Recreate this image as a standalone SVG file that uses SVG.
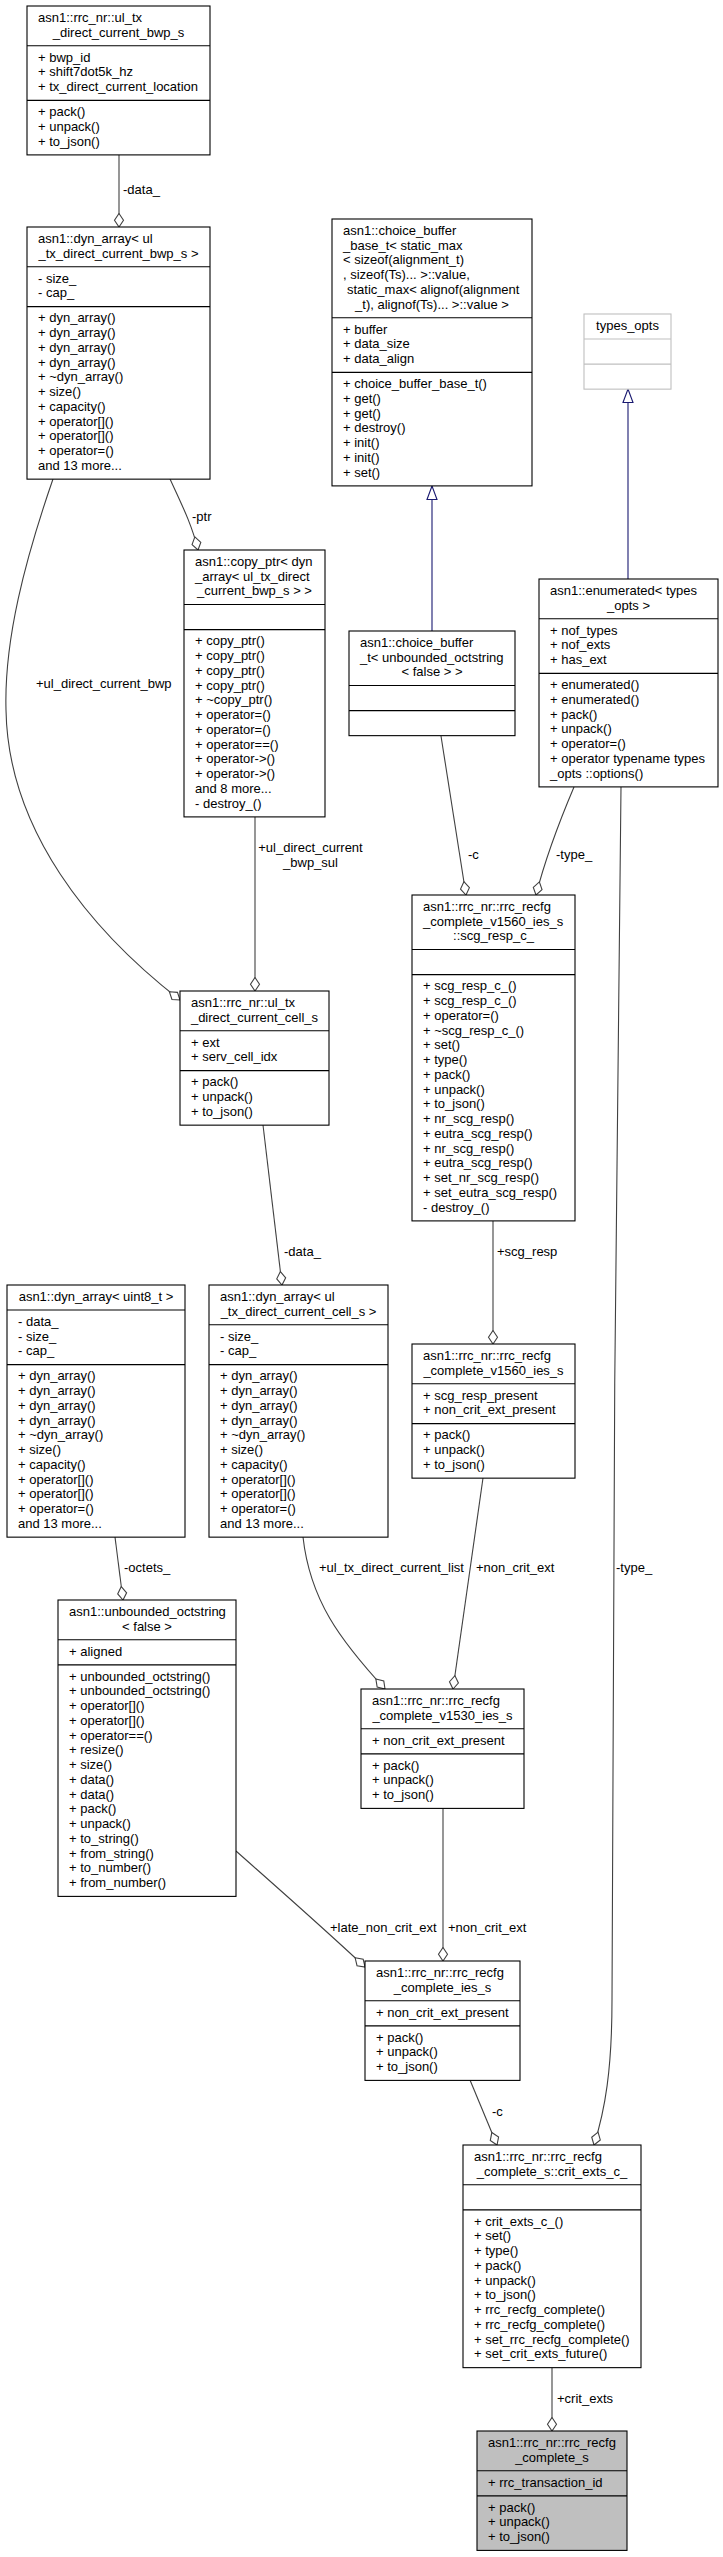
<svg xmlns="http://www.w3.org/2000/svg" width="723" height="2557" viewBox="0 0 723 2557">
<style>
text{font-family:"Liberation Sans",Arial,sans-serif;font-size:13px;fill:#000}
.c{text-anchor:middle}
.box{fill:#fff;stroke:#000;stroke-width:1.1}
.sep{stroke:#000;stroke-width:1.1}
.grey{fill:#fff;stroke:#bfbfbf;stroke-width:1.1}
.gsep{stroke:#bfbfbf;stroke-width:1.1}
.main{fill:#bfbfbf;stroke:#000;stroke-width:1.1}
.e{fill:none;stroke:#404040;stroke-width:1.1;marker-end:url(#dia)}
.inh{fill:none;stroke:#191970;stroke-width:1.1;marker-end:url(#tri)}
</style>
<defs>
<marker id="dia" markerWidth="16" markerHeight="12" refX="14.5" refY="6" orient="auto" markerUnits="userSpaceOnUse" viewBox="0 0 16 12"><path d="M1,6 L7.8,1.5 L14.5,6 L7.8,10.5 Z" fill="#fff" stroke="#404040" stroke-width="1.1"/></marker>
<marker id="tri" markerWidth="16" markerHeight="12" refX="14.5" refY="6" orient="auto" markerUnits="userSpaceOnUse" viewBox="0 0 16 12"><path d="M1,1 L14.5,6 L1,11 Z" fill="#fff" stroke="#191970" stroke-width="1.1"/></marker>
</defs>

<g id="edges">
<path class="e" d="M119,155 L119,227"/>
<path class="e" d="M170,479 C182,505 192,525 198,550"/>
<path class="e" d="M53,479 C25,560 4,640 6,710 C8,830 90,930 180,1000"/>
<path class="e" d="M255,817 L255,991"/>
<path class="e" d="M441,736 L466,895"/>
<path class="e" d="M574,787 C560,820 545,860 536,895"/>
<path class="e" d="M621,787 C616,1100 612,1700 612,2000 C612,2070 605,2110 594,2145"/>
<path class="e" d="M493,1221 L493,1344"/>
<path class="e" d="M263,1125 L282,1285"/>
<path class="e" d="M115,1537 L123,1600"/>
<path class="e" d="M303,1537 C310,1600 340,1640 385,1689"/>
<path class="e" d="M483,1478 L453,1689"/>
<path class="e" d="M443,1808 L443,1961"/>
<path class="e" d="M236,1851 C280,1890 320,1925 365,1967"/>
<path class="e" d="M470,2080 L497,2145"/>
<path class="e" d="M552,2368 L552,2431"/>
<path class="inh" d="M432,631 L432,486"/>
<path class="inh" d="M628,579 L628,389"/>
<text x="123" y="194">-data_</text>
<text x="192" y="521">-ptr</text>
<text x="36" y="687.5">+ul_direct_current_bwp</text>
<text x="310.5" y="852" class="c">+ul_direct_current</text>
<text x="310.5" y="867" class="c">_bwp_sul</text>
<text x="468" y="859">-c</text>
<text x="556" y="859">-type_</text>
<text x="284" y="1256">-data_</text>
<text x="497" y="1256">+scg_resp</text>
<text x="124" y="1572">-octets_</text>
<text x="319" y="1572">+ul_tx_direct_current_list</text>
<text x="476" y="1572">+non_crit_ext</text>
<text x="616" y="1572">-type_</text>
<text x="330" y="1932">+late_non_crit_ext</text>
<text x="448" y="1932">+non_crit_ext</text>
<text x="492" y="2116">-c</text>
<text x="557" y="2403">+crit_exts</text>
</g>

<g id="n1">
<rect class="box" x="27" y="6" width="183" height="148.9"/>
<line class="sep" x1="27" y1="45.8" x2="210" y2="45.8"/>
<line class="sep" x1="27" y1="100.35" x2="210" y2="100.35"/>
<text x="38" y="21.8">asn1::rrc_nr::ul_tx</text>
<text x="118.5" y="36.55" class="c">_direct_current_bwp_s</text>
<text x="38" y="61.6">+ bwp_id<tspan x="38" dy="14.75">+ shift7dot5k_hz</tspan><tspan x="38" dy="14.75">+ tx_direct_current_location</tspan></text>
<text x="38" y="116.15">+ pack()<tspan x="38" dy="14.75">+ unpack()</tspan><tspan x="38" dy="14.75">+ to_json()</tspan></text>
</g>

<g id="n2">
<rect class="box" x="27" y="227" width="183" height="252.15"/>
<line class="sep" x1="27" y1="266.8" x2="210" y2="266.8"/>
<line class="sep" x1="27" y1="306.6" x2="210" y2="306.6"/>
<text x="38" y="242.8">asn1::dyn_array&lt; ul</text>
<text x="118.5" y="257.55" class="c">_tx_direct_current_bwp_s &gt;</text>
<text x="38" y="282.6">- size_<tspan x="38" dy="14.75">- cap_</tspan></text>
<text x="38" y="322.4">+ dyn_array()<tspan x="38" dy="14.75">+ dyn_array()</tspan><tspan x="38" dy="14.75">+ dyn_array()</tspan><tspan x="38" dy="14.75">+ dyn_array()</tspan><tspan x="38" dy="14.75">+ ~dyn_array()</tspan><tspan x="38" dy="14.75">+ size()</tspan><tspan x="38" dy="14.75">+ capacity()</tspan><tspan x="38" dy="14.75">+ operator[]()</tspan><tspan x="38" dy="14.75">+ operator[]()</tspan><tspan x="38" dy="14.75">+ operator=()</tspan><tspan x="38" dy="14.75">and 13 more...</tspan></text>
</g>

<g id="n3">
<rect class="box" x="184" y="550" width="141" height="266.9"/>
<line class="sep" x1="184" y1="604.55" x2="325" y2="604.55"/>
<line class="sep" x1="184" y1="629.6" x2="325" y2="629.6"/>
<text x="195" y="565.8">asn1::copy_ptr&lt; dyn</text>
<text x="195" y="580.55">_array&lt; ul_tx_direct</text>
<text x="254.5" y="595.3" class="c">_current_bwp_s &gt; &gt;</text>
<text x="195" y="645.4">+ copy_ptr()<tspan x="195" dy="14.75">+ copy_ptr()</tspan><tspan x="195" dy="14.75">+ copy_ptr()</tspan><tspan x="195" dy="14.75">+ copy_ptr()</tspan><tspan x="195" dy="14.75">+ ~copy_ptr()</tspan><tspan x="195" dy="14.75">+ operator=()</tspan><tspan x="195" dy="14.75">+ operator=()</tspan><tspan x="195" dy="14.75">+ operator==()</tspan><tspan x="195" dy="14.75">+ operator-&gt;()</tspan><tspan x="195" dy="14.75">+ operator-&gt;()</tspan><tspan x="195" dy="14.75">and 8 more...</tspan><tspan x="195" dy="14.75">- destroy_()</tspan></text>
</g>

<g id="n4">
<rect class="box" x="332" y="219" width="200" height="266.9"/>
<line class="sep" x1="332" y1="317.8" x2="532" y2="317.8"/>
<line class="sep" x1="332" y1="372.35" x2="532" y2="372.35"/>
<text x="343" y="234.8">asn1::choice_buffer<tspan x="343" dy="14.75">_base_t&lt; static_max</tspan><tspan x="343" dy="14.75">&lt; sizeof(alignment_t)</tspan><tspan x="343" dy="14.75">, sizeof(Ts)... &gt;::value,</tspan><tspan x="347" dy="14.75">static_max&lt; alignof(alignment</tspan></text>
<text x="432" y="308.55" class="c">_t), alignof(Ts)... &gt;::value &gt;</text>
<text x="343" y="333.6">+ buffer<tspan x="343" dy="14.75">+ data_size</tspan><tspan x="343" dy="14.75">+ data_align</tspan></text>
<text x="343" y="388.15">+ choice_buffer_base_t()<tspan x="343" dy="14.75">+ get()</tspan><tspan x="343" dy="14.75">+ get()</tspan><tspan x="343" dy="14.75">+ destroy()</tspan><tspan x="343" dy="14.75">+ init()</tspan><tspan x="343" dy="14.75">+ init()</tspan><tspan x="343" dy="14.75">+ set()</tspan></text>
</g>

<g id="n5">
<rect class="grey" x="584" y="314" width="87" height="75.15"/>
<line class="gsep" x1="584" y1="339.05" x2="671" y2="339.05"/>
<line class="gsep" x1="584" y1="364.1" x2="671" y2="364.1"/>
<text x="627.5" y="329.8" class="c">types_opts</text>
</g>

<g id="n6">
<rect class="box" x="539" y="579" width="179" height="207.9"/>
<line class="sep" x1="539" y1="618.8" x2="718" y2="618.8"/>
<line class="sep" x1="539" y1="673.35" x2="718" y2="673.35"/>
<text x="550" y="594.8">asn1::enumerated&lt; types</text>
<text x="628.5" y="609.55" class="c">_opts &gt;</text>
<text x="550" y="634.6">+ nof_types<tspan x="550" dy="14.75">+ nof_exts</tspan><tspan x="550" dy="14.75">+ has_ext</tspan></text>
<text x="550" y="689.15">+ enumerated()<tspan x="550" dy="14.75">+ enumerated()</tspan><tspan x="550" dy="14.75">+ pack()</tspan><tspan x="550" dy="14.75">+ unpack()</tspan><tspan x="550" dy="14.75">+ operator=()</tspan><tspan x="550" dy="14.75">+ operator typename types</tspan><tspan x="550" dy="14.75">_opts ::options()</tspan></text>
</g>

<g id="n7">
<rect class="box" x="349" y="631" width="166" height="104.65"/>
<line class="sep" x1="349" y1="685.55" x2="515" y2="685.55"/>
<line class="sep" x1="349" y1="710.6" x2="515" y2="710.6"/>
<text x="360" y="646.8">asn1::choice_buffer<tspan x="360" dy="14.75">_t&lt; unbounded_octstring</tspan></text>
<text x="432" y="676.3" class="c">&lt; false &gt; &gt;</text>
</g>

<g id="n8">
<rect class="box" x="412" y="895" width="163" height="325.9"/>
<line class="sep" x1="412" y1="949.55" x2="575" y2="949.55"/>
<line class="sep" x1="412" y1="974.6" x2="575" y2="974.6"/>
<text x="423" y="910.8">asn1::rrc_nr::rrc_recfg<tspan x="423" dy="14.75">_complete_v1560_ies_s</tspan></text>
<text x="493.5" y="940.3" class="c">::scg_resp_c_</text>
<text x="423" y="990.4">+ scg_resp_c_()<tspan x="423" dy="14.75">+ scg_resp_c_()</tspan><tspan x="423" dy="14.75">+ operator=()</tspan><tspan x="423" dy="14.75">+ ~scg_resp_c_()</tspan><tspan x="423" dy="14.75">+ set()</tspan><tspan x="423" dy="14.75">+ type()</tspan><tspan x="423" dy="14.75">+ pack()</tspan><tspan x="423" dy="14.75">+ unpack()</tspan><tspan x="423" dy="14.75">+ to_json()</tspan><tspan x="423" dy="14.75">+ nr_scg_resp()</tspan><tspan x="423" dy="14.75">+ eutra_scg_resp()</tspan><tspan x="423" dy="14.75">+ nr_scg_resp()</tspan><tspan x="423" dy="14.75">+ eutra_scg_resp()</tspan><tspan x="423" dy="14.75">+ set_nr_scg_resp()</tspan><tspan x="423" dy="14.75">+ set_eutra_scg_resp()</tspan><tspan x="423" dy="14.75">- destroy_()</tspan></text>
</g>

<g id="n9">
<rect class="box" x="180" y="991" width="149" height="134.15"/>
<line class="sep" x1="180" y1="1030.8" x2="329" y2="1030.8"/>
<line class="sep" x1="180" y1="1070.6" x2="329" y2="1070.6"/>
<text x="191" y="1006.8">asn1::rrc_nr::ul_tx</text>
<text x="254.5" y="1021.55" class="c">_direct_current_cell_s</text>
<text x="191" y="1046.6">+ ext<tspan x="191" dy="14.75">+ serv_cell_idx</tspan></text>
<text x="191" y="1086.4">+ pack()<tspan x="191" dy="14.75">+ unpack()</tspan><tspan x="191" dy="14.75">+ to_json()</tspan></text>
</g>

<g id="n10">
<rect class="box" x="7" y="1285" width="178" height="252.15"/>
<line class="sep" x1="7" y1="1310.05" x2="185" y2="1310.05"/>
<line class="sep" x1="7" y1="1364.6" x2="185" y2="1364.6"/>
<text x="96" y="1300.8" class="c">asn1::dyn_array&lt; uint8_t &gt;</text>
<text x="18" y="1325.85">- data_<tspan x="18" dy="14.75">- size_</tspan><tspan x="18" dy="14.75">- cap_</tspan></text>
<text x="18" y="1380.4">+ dyn_array()<tspan x="18" dy="14.75">+ dyn_array()</tspan><tspan x="18" dy="14.75">+ dyn_array()</tspan><tspan x="18" dy="14.75">+ dyn_array()</tspan><tspan x="18" dy="14.75">+ ~dyn_array()</tspan><tspan x="18" dy="14.75">+ size()</tspan><tspan x="18" dy="14.75">+ capacity()</tspan><tspan x="18" dy="14.75">+ operator[]()</tspan><tspan x="18" dy="14.75">+ operator[]()</tspan><tspan x="18" dy="14.75">+ operator=()</tspan><tspan x="18" dy="14.75">and 13 more...</tspan></text>
</g>

<g id="n11">
<rect class="box" x="209" y="1285" width="179" height="252.15"/>
<line class="sep" x1="209" y1="1324.8" x2="388" y2="1324.8"/>
<line class="sep" x1="209" y1="1364.6" x2="388" y2="1364.6"/>
<text x="220" y="1300.8">asn1::dyn_array&lt; ul</text>
<text x="298.5" y="1315.55" class="c">_tx_direct_current_cell_s &gt;</text>
<text x="220" y="1340.6">- size_<tspan x="220" dy="14.75">- cap_</tspan></text>
<text x="220" y="1380.4">+ dyn_array()<tspan x="220" dy="14.75">+ dyn_array()</tspan><tspan x="220" dy="14.75">+ dyn_array()</tspan><tspan x="220" dy="14.75">+ dyn_array()</tspan><tspan x="220" dy="14.75">+ ~dyn_array()</tspan><tspan x="220" dy="14.75">+ size()</tspan><tspan x="220" dy="14.75">+ capacity()</tspan><tspan x="220" dy="14.75">+ operator[]()</tspan><tspan x="220" dy="14.75">+ operator[]()</tspan><tspan x="220" dy="14.75">+ operator=()</tspan><tspan x="220" dy="14.75">and 13 more...</tspan></text>
</g>

<g id="n12">
<rect class="box" x="412" y="1344" width="163" height="134.15"/>
<line class="sep" x1="412" y1="1383.8" x2="575" y2="1383.8"/>
<line class="sep" x1="412" y1="1423.6" x2="575" y2="1423.6"/>
<text x="423" y="1359.8">asn1::rrc_nr::rrc_recfg</text>
<text x="493.5" y="1374.55" class="c">_complete_v1560_ies_s</text>
<text x="423" y="1399.6">+ scg_resp_present<tspan x="423" dy="14.75">+ non_crit_ext_present</tspan></text>
<text x="423" y="1439.4">+ pack()<tspan x="423" dy="14.75">+ unpack()</tspan><tspan x="423" dy="14.75">+ to_json()</tspan></text>
</g>

<g id="n13">
<rect class="box" x="58" y="1600" width="178" height="296.4"/>
<line class="sep" x1="58" y1="1639.8" x2="236" y2="1639.8"/>
<line class="sep" x1="58" y1="1664.85" x2="236" y2="1664.85"/>
<text x="69" y="1615.8">asn1::unbounded_octstring</text>
<text x="147" y="1630.55" class="c">&lt; false &gt;</text>
<text x="69" y="1655.6">+ aligned</text>
<text x="69" y="1680.65">+ unbounded_octstring()<tspan x="69" dy="14.75">+ unbounded_octstring()</tspan><tspan x="69" dy="14.75">+ operator[]()</tspan><tspan x="69" dy="14.75">+ operator[]()</tspan><tspan x="69" dy="14.75">+ operator==()</tspan><tspan x="69" dy="14.75">+ resize()</tspan><tspan x="69" dy="14.75">+ size()</tspan><tspan x="69" dy="14.75">+ data()</tspan><tspan x="69" dy="14.75">+ data()</tspan><tspan x="69" dy="14.75">+ pack()</tspan><tspan x="69" dy="14.75">+ unpack()</tspan><tspan x="69" dy="14.75">+ to_string()</tspan><tspan x="69" dy="14.75">+ from_string()</tspan><tspan x="69" dy="14.75">+ to_number()</tspan><tspan x="69" dy="14.75">+ from_number()</tspan></text>
</g>

<g id="n14">
<rect class="box" x="361" y="1689" width="163" height="119.4"/>
<line class="sep" x1="361" y1="1728.8" x2="524" y2="1728.8"/>
<line class="sep" x1="361" y1="1753.85" x2="524" y2="1753.85"/>
<text x="372" y="1704.8">asn1::rrc_nr::rrc_recfg</text>
<text x="442.5" y="1719.55" class="c">_complete_v1530_ies_s</text>
<text x="372" y="1744.6">+ non_crit_ext_present</text>
<text x="372" y="1769.65">+ pack()<tspan x="372" dy="14.75">+ unpack()</tspan><tspan x="372" dy="14.75">+ to_json()</tspan></text>
</g>

<g id="n15">
<rect class="box" x="365" y="1961" width="155" height="119.4"/>
<line class="sep" x1="365" y1="2000.8" x2="520" y2="2000.8"/>
<line class="sep" x1="365" y1="2025.85" x2="520" y2="2025.85"/>
<text x="376" y="1976.8">asn1::rrc_nr::rrc_recfg</text>
<text x="442.5" y="1991.55" class="c">_complete_ies_s</text>
<text x="376" y="2016.6">+ non_crit_ext_present</text>
<text x="376" y="2041.65">+ pack()<tspan x="376" dy="14.75">+ unpack()</tspan><tspan x="376" dy="14.75">+ to_json()</tspan></text>
</g>

<g id="n16">
<rect class="box" x="463" y="2145" width="178" height="222.65"/>
<line class="sep" x1="463" y1="2184.8" x2="641" y2="2184.8"/>
<line class="sep" x1="463" y1="2209.85" x2="641" y2="2209.85"/>
<text x="474" y="2160.8">asn1::rrc_nr::rrc_recfg</text>
<text x="552" y="2175.55" class="c">_complete_s::crit_exts_c_</text>
<text x="474" y="2225.65">+ crit_exts_c_()<tspan x="474" dy="14.75">+ set()</tspan><tspan x="474" dy="14.75">+ type()</tspan><tspan x="474" dy="14.75">+ pack()</tspan><tspan x="474" dy="14.75">+ unpack()</tspan><tspan x="474" dy="14.75">+ to_json()</tspan><tspan x="474" dy="14.75">+ rrc_recfg_complete()</tspan><tspan x="474" dy="14.75">+ rrc_recfg_complete()</tspan><tspan x="474" dy="14.75">+ set_rrc_recfg_complete()</tspan><tspan x="474" dy="14.75">+ set_crit_exts_future()</tspan></text>
</g>

<g id="n17">
<rect class="main" x="477" y="2431" width="150" height="119.4"/>
<line class="sep" x1="477" y1="2470.8" x2="627" y2="2470.8"/>
<line class="sep" x1="477" y1="2495.85" x2="627" y2="2495.85"/>
<text x="488" y="2446.8">asn1::rrc_nr::rrc_recfg</text>
<text x="552" y="2461.55" class="c">_complete_s</text>
<text x="488" y="2486.6">+ rrc_transaction_id</text>
<text x="488" y="2511.65">+ pack()<tspan x="488" dy="14.75">+ unpack()</tspan><tspan x="488" dy="14.75">+ to_json()</tspan></text>
</g>
</svg>
